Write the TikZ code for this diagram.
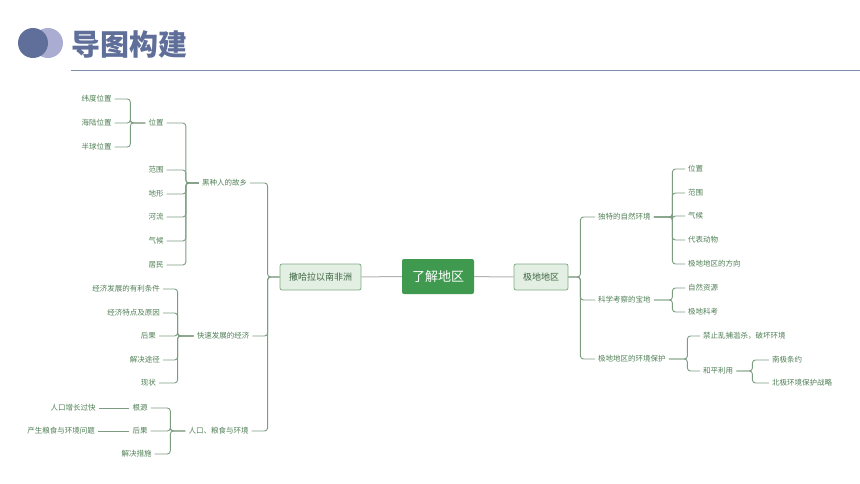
\documentclass[tikz,border=0pt]{standalone}
\usepackage{fontspec}
\newfontfamily\cjk{Noto Sans CJK SC}
\usetikzlibrary{positioning}
\definecolor{leafgreen}{HTML}{4F7F55}
\definecolor{linegreen}{HTML}{7E9C82}
\definecolor{boxfill}{HTML}{E2EFE2}
\definecolor{boxline}{HTML}{7FAA84}
\definecolor{rootgreen}{HTML}{3F9A50}
\definecolor{headblue}{HTML}{5F6F99}
\definecolor{headlight}{HTML}{ABACD2}

\begin{document}
\begin{tikzpicture}
%Mind map of the two regions
	[
	 	 %Styles
       x=1pt, y=-1pt,
       leaf/.style={rectangle, inner xsep=3pt, inner ysep=2pt, text=leafgreen, font=\cjk\fontsize{7.5}{9}\selectfont},
       topic/.style={rectangle, rounded corners=2pt, draw=boxline, fill=boxfill, thick, inner xsep=9pt, minimum height=26pt, text=leafgreen!80!black, font=\cjk\fontsize{9}{11}\selectfont},
       root_node/.style={rectangle, rounded corners=2pt, fill=rootgreen, inner xsep=10pt, minimum height=35pt, text=white, font=\cjk\fontsize{13}{15}\selectfont},
       link/.style={draw=linegreen, line width=0.9pt, rounded corners=3pt},
       main_link/.style={draw=black!30, line width=1pt}
    ]
    \useasboundingbox (0,0) rectangle (860,484);

    %Header
    \fill[headlight] (48,43) circle (15);
    \fill[headblue] (33,43) circle (15);
    \node (title) [anchor=west, inner sep=0pt, text=headblue, font=\cjk\bfseries\fontsize{29}{31}\selectfont] at (71,44) {导图构建};
    \draw[headblue!80, line width=0.8pt] (71,70) -- (860,70);

    %Centre
    \node (root) [root_node] at (438,276.5) {了解地区};
    \node (sahara) [topic] at (320.5,277) {撒哈拉以南非洲};
    \node (polar) [topic] at (541,277) {极地地区};

    %Left branch
    \node (home) [leaf] at (224.5,183) {黑种人的故乡};
    \node (economy) [leaf] at (223,336) {快速发展的经济};
    \node (people) [leaf] at (218.5,431) {人口、粮食与环境};

    \node (place) [leaf] at (156,123) {位置};
    \node (range) [leaf] at (156,170) {范围};
    \node (terrain) [leaf] at (156,194) {地形};
    \node (river) [leaf] at (156,217) {河流};
    \node (climate) [leaf] at (156,241) {气候};
    \node (folk) [leaf] at (156,265) {居民};

    \node (latitude) [leaf] at (96.5,99) {纬度位置};
    \node (landsea) [leaf] at (96.5,123) {海陆位置};
    \node (hemi) [leaf] at (96.5,147) {半球位置};

    \node (favour) [leaf, anchor=east] at (163,289) {经济发展的有利条件};
    \node (feature) [leaf, anchor=east] at (163,313) {经济特点及原因};
    \node (result) [leaf, anchor=east] at (159,336) {后果};
    \node (solve) [leaf, anchor=east] at (163,360) {解决途径};
    \node (status) [leaf, anchor=east] at (159,383) {现状};

    \node (root_cause) [leaf] at (140,408) {根源};
    \node (effect) [leaf] at (140,431) {后果};
    \node (measure) [leaf] at (136.5,454) {解决措施};
    \node (growth) [leaf] at (73,408) {人口增长过快};
    \node (problem) [leaf] at (61,431) {产生粮食与环境问题};

    %Right branch
    \node (nature) [leaf, anchor=west] at (595,217) {独特的自然环境};
    \node (science) [leaf, anchor=west] at (595,300) {科学考察的宝地};
    \node (protect) [leaf, anchor=west] at (595,359) {极地地区的环境保护};

    \node (p_place) [leaf, anchor=west] at (685,169) {位置};
    \node (p_range) [leaf, anchor=west] at (685,193) {范围};
    \node (p_climate) [leaf, anchor=west] at (685,216) {气候};
    \node (animal) [leaf, anchor=west] at (685,240) {代表动物};
    \node (direction) [leaf, anchor=west] at (685,264) {极地地区的方向};

    \node (resource) [leaf, anchor=west] at (685,288) {自然资源};
    \node (survey) [leaf, anchor=west] at (685,312) {极地科考};

    \node (ban) [leaf, anchor=west] at (700,336) {禁止乱捕滥杀，破坏环境};
    \node (peace) [leaf, anchor=west] at (700,371) {和平利用};
    \node (treaty) [leaf, anchor=west] at (769,360) {南极条约};
    \node (strategy) [leaf, anchor=west] at (769,383) {北极环境保护战略};

    %Edges
    \draw[main_link] (sahara) -- (root);
    \draw[main_link] (root) -- (polar);

    \foreach \n in {home,economy,people}
        \draw[link] (sahara.west) -- ++(-12,0) |- (\n.east);
    \foreach \n in {place,range,terrain,river,climate,folk}
        \draw[link] (home.west) -- ++(-13,0) |- (\n.east);
    \foreach \n in {latitude,landsea,hemi}
        \draw[link] (place.west) -- ++(-15,0) |- (\n.east);
    \foreach \n in {favour,feature,result,solve,status}
        \draw[link] (economy.west) -- ++(-16,0) |- (\n.east);
    \foreach \n in {root_cause,effect,measure}
        \draw[link] (people.west) -- ++(-15,0) |- (\n.east);
    \draw[link] (root_cause) -- (growth);
    \draw[link] (effect) -- (problem);

    \foreach \n in {nature,science,protect}
        \draw[link] (polar.east) -- ++(12,0) |- (\n.west);
    \foreach \n in {p_place,p_range,p_climate,animal,direction}
        \draw[link] (nature.east) -- ++(18.5,0) |- (\n.west);
    \foreach \n in {resource,survey}
        \draw[link] (science.east) -- ++(18.5,0) |- (\n.west);
    \foreach \n in {ban,peace}
        \draw[link] (protect.east) -- ++(18.5,0) |- (\n.west);
    \foreach \n in {treaty,strategy}
        \draw[link] (peace.east) -- ++(16,0) |- (\n.west);
\end{tikzpicture}
\end{document}
